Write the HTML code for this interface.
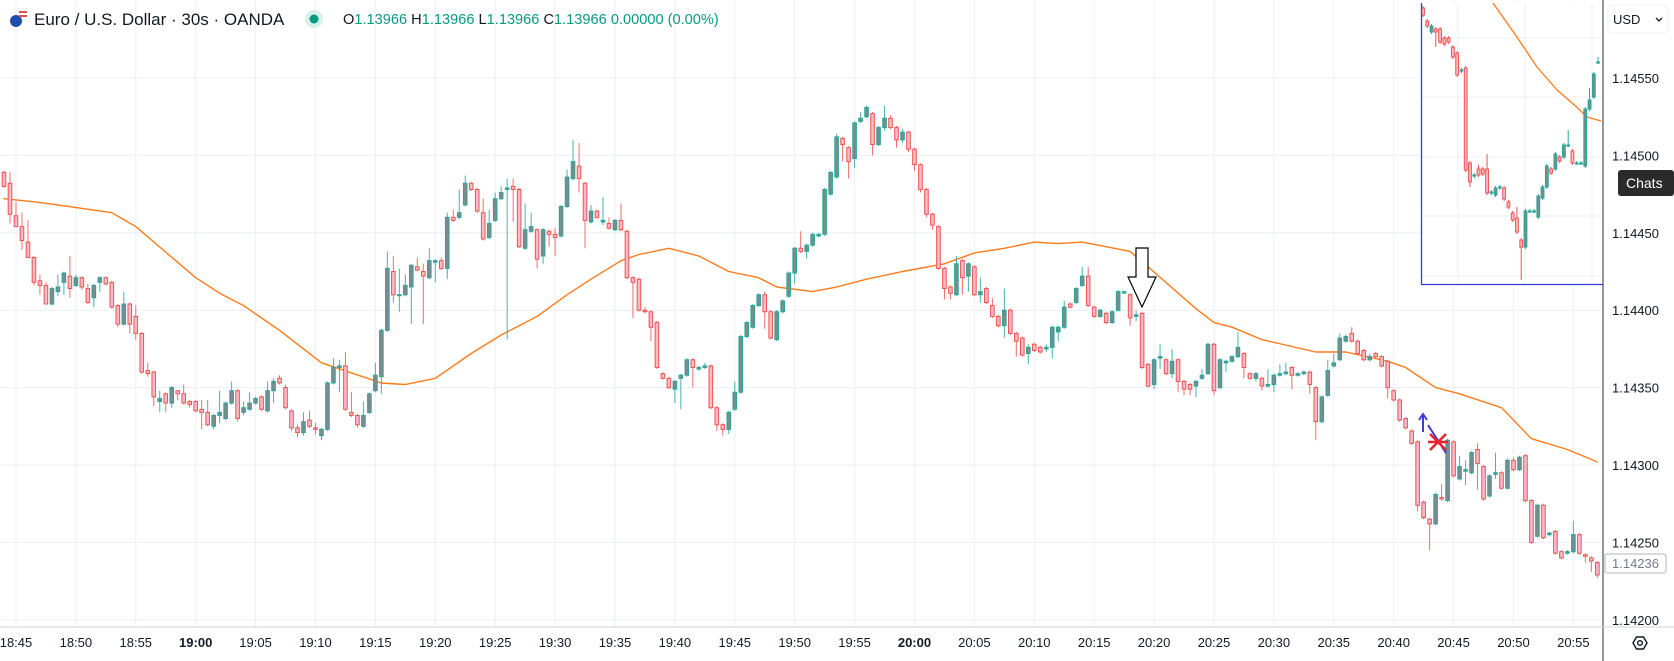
<!DOCTYPE html>
<html><head><meta charset="utf-8"><style>
html,body{margin:0;padding:0;background:#fff;width:1674px;height:661px;overflow:hidden;font-family:"Liberation Sans",sans-serif}
svg{position:absolute;left:0;top:0}
</style></head><body>
<svg id="chart" width="1674" height="661" viewBox="0 0 1674 661" xmlns="http://www.w3.org/2000/svg">
<defs>
<clipPath id="plotClip"><rect x="0" y="0" width="1603" height="626"/></clipPath>
<clipPath id="insetClip"><rect x="1421" y="3" width="182" height="281"/></clipPath>
</defs>
<g id="grid"></g>
<g id="ma" clip-path="url(#plotClip)"></g>
<g id="candles" clip-path="url(#plotClip)"></g>
<g id="inset"></g>
<g id="annot">
 <path d="M1136,248 L1148,248 L1148,277 L1156,277 L1142,307 L1128,277 L1136,277 Z" fill="#fff" stroke="#000" stroke-width="1.2"/>
 <g stroke="#3b3bd6" stroke-width="2" fill="none">
  <path d="M1423,432 L1423,415 M1419,420 L1423,414 L1427,420"/>
  <path d="M1428,425 L1446,453"/>
 </g>
 <g stroke="#e8232e" stroke-width="2.5">
  <path d="M1430,434 L1446,450 M1430,450 L1446,434 M1428,442 L1448,442"/>
 </g>
</g>
<g id="axes">
 <line x1="1603" y1="0" x2="1603" y2="661" stroke="#2a2e39" stroke-width="1"/>
 <line x1="0" y1="627" x2="1674" y2="627" stroke="#d1d4dc" stroke-width="1"/>
</g>
<g id="yticks"></g>
<g id="xticks"></g>
<g>
 <rect x="1605" y="554" width="61" height="19" rx="2" fill="#fff" stroke="#b2b5be"/>
 <text x="1612" y="568" font-size="13" fill="#787b86">1.14236</text>
</g>
<g>
 <rect x="1608" y="5" width="60" height="28" rx="4" fill="#fff" stroke="#eef0f3"/>
 <text x="1613" y="24" font-size="13" fill="#131722">USD</text>
 <path d="M1656,18 L1659,21 L1662,18" stroke="#131722" stroke-width="1.3" fill="none"/>
</g>
<g>
 <rect x="1618" y="170" width="56" height="26" rx="3" fill="#2a2a2a"/>
 <text x="1626" y="188" font-size="14" fill="#fff">Chats</text>
</g>
<g stroke="#131722" stroke-width="1.4" fill="none">
 <path d="M1633,643 L1636.5,637 L1643.5,637 L1647,643 L1643.5,649 L1636.5,649 Z"/>
 <circle cx="1640" cy="643" r="2.3"/>
</g>
<g>
 <circle cx="16" cy="21" r="6" fill="#1f4fae"/>
 <rect x="19" y="11" width="8" height="6" fill="#e84a4a"/>
 <rect x="19" y="13" width="8" height="2" fill="#fff"/>
 <text x="34" y="25" font-size="17" fill="#131722">Euro / U.S. Dollar · 30s · OANDA</text>
 <circle cx="314" cy="19" r="9" fill="#d8f0ec"/>
 <circle cx="314" cy="19" r="4.5" fill="#089981"/>
 <text x="343" y="24" font-size="14.6" fill="#089981"><tspan fill="#131722">O</tspan>1.13966 <tspan fill="#131722">H</tspan>1.13966 <tspan fill="#131722">L</tspan>1.13966 <tspan fill="#131722">C</tspan>1.13966 0.00000 (0.00%)</text>
</g>
</svg>
<script>
// prices in points above 1.14000 (e.g. 472 => 1.14472)
const opens=[489,482,461,454,444,434,419,416,404,412,418,422,416,421,414,408,418,421,418,403,391,404,396,385,361,360,341,346,340,348,346,341,341,336,334,325,332,330,340,348,334,336,340,344,335,348,356,350,335,324,321,329,324,319,323,353,363,364,334,332,325,334,348,357,387,425,410,410,415,428,425,421,431,432,427,460,460,468,482,478,463,447,458,472,478,480,478,440,451,452,435,451,449,448,467,485,493,482,457,464,457,456,452,458,451,421,420,400,399,392,359,356,349,356,358,368,362,363,364,337,326,323,336,347,383,389,403,410,399,381,399,409,424,440,438,442,448,449,475,486,511,505,498,522,525,527,507,518,524,518,510,515,504,494,478,462,454,427,415,410,432,422,428,410,414,403,396,390,400,385,382,372,378,376,375,376,386,389,404,405,416,422,402,396,398,392,400,411,410,396,398,365,352,369,368,359,368,354,352,351,356,359,378,350,366,367,370,372,359,356,356,351,352,358,359,363,358,359,360,350,328,345,364,368,380,385,380,374,368,372,370,367,348,342,330,322,315,276,265,262,279,277,315,291,296,295,310,299,280,294,295,285,303,297,306,277,254,274,255,257,244,243,244,255,242,240,237];
const closes=[480,462,454,445,434,418,416,404,414,415,424,414,421,415,405,416,421,417,402,391,404,391,385,360,359,344,343,340,350,346,340,339,335,334,326,332,334,340,348,330,337,340,343,336,348,354,353,337,324,321,328,325,323,323,353,363,364,336,332,326,332,346,358,387,427,410,410,416,429,426,422,432,432,427,460,458,463,482,478,464,446,456,472,476,479,478,441,452,454,433,452,449,447,467,486,496,485,458,464,460,458,453,458,452,421,418,400,399,389,363,356,350,354,358,368,363,363,364,337,326,323,334,347,383,392,403,410,399,382,399,406,424,440,438,442,449,449,478,489,512,507,496,521,524,531,507,518,524,518,510,515,504,494,478,462,455,427,414,411,430,421,430,410,412,405,396,390,400,385,380,371,376,374,373,376,389,389,402,402,414,422,403,396,400,392,399,412,412,395,397,363,351,368,370,359,367,354,349,349,354,358,378,348,368,367,370,376,363,356,359,351,352,358,359,360,358,359,360,352,328,344,361,366,382,383,380,372,368,370,370,364,350,342,329,324,314,274,266,262,281,278,316,293,299,297,308,301,278,293,295,285,303,297,305,277,250,274,253,256,243,240,244,255,243,241,238,229];
const highs=[490,489,470,463,458,435,423,418,415,423,425,435,423,422,417,417,422,422,419,404,412,405,403,386,366,361,348,347,351,348,352,342,342,342,342,333,348,341,354,349,341,347,344,345,354,356,358,352,336,326,334,335,327,324,354,369,368,373,347,333,341,347,366,388,438,435,427,423,430,434,430,440,433,434,463,465,478,487,483,479,472,465,476,480,485,485,479,469,463,453,453,452,453,468,491,510,508,483,468,465,473,460,459,469,452,422,421,402,400,393,360,357,355,359,369,369,364,366,365,338,327,335,354,384,393,404,411,412,400,400,407,425,441,451,443,450,450,479,490,514,512,506,522,528,532,528,519,532,526,519,517,516,505,495,479,463,455,428,416,435,433,431,429,421,415,408,397,414,401,386,383,378,379,377,378,390,390,406,405,415,428,428,403,401,399,400,413,412,411,400,399,366,369,378,369,375,369,355,353,355,362,379,379,369,368,371,386,373,360,360,357,362,359,365,366,364,360,361,361,351,345,368,372,385,384,389,381,375,372,373,371,368,349,343,331,323,316,277,266,282,288,317,316,306,303,309,314,300,294,308,296,304,305,306,307,278,275,275,257,258,245,245,264,256,243,241,238];
const lows=[479,456,454,439,434,416,410,404,403,409,410,408,415,413,404,402,412,416,401,389,390,385,381,359,357,338,334,334,337,342,339,337,334,323,325,323,327,329,339,328,332,335,339,335,334,340,352,336,322,318,319,324,320,316,322,352,347,335,331,324,324,333,347,346,386,405,399,409,391,425,391,420,418,426,420,457,459,467,477,463,445,446,457,471,381,457,440,439,450,427,430,441,435,447,466,484,476,440,456,459,455,452,451,451,420,395,399,398,380,362,355,349,340,336,357,350,361,362,336,322,319,320,335,346,382,388,402,388,381,380,398,408,417,437,433,441,447,448,474,485,496,485,492,521,524,500,506,516,517,505,508,502,490,476,460,452,426,407,407,409,410,412,409,405,404,395,389,382,384,370,370,365,373,372,373,369,380,388,401,404,415,402,395,395,391,391,399,411,390,393,362,350,349,362,358,356,347,345,345,344,355,358,345,349,360,366,369,356,355,354,348,350,347,357,358,349,357,358,346,316,327,344,363,367,379,379,371,367,367,369,363,343,341,328,323,313,270,265,245,261,277,276,292,290,287,294,284,277,279,291,284,284,296,296,276,249,253,252,254,242,239,242,243,242,237,231,227];
// moving average: candle index and value (points)
const maIdx=[0,5,9,18,22,32,36,40,46,53,63,67,72,78,83,89,94,98,103,106,111,116,121,126,129,135,139,144,150,157,162,167,172,176,180,184,188,191,199,202,205,210,219,224,231,234,239,243,250,255,261,266];
const maVal=[472,470,468,463,454,421,411,403,387,366,353,352,356,372,384,396,410,420,432,436,440,435,425,421,415,412,415,420,425,430,437,440,444,443,444,441,438,428,401,392,389,381,373,373,367,363,350,346,337,317,310,302];
const priceTicks=[550,500,450,400,350,300,250,200];
const timeLabels=["18:45","18:50","18:55","19:00","19:05","19:10","19:15","19:20","19:25","19:30","19:35","19:40","19:45","19:50","19:55","20:00","20:05","20:10","20:15","20:20","20:25","20:30","20:35","20:40","20:45","20:50","20:55"];
// inset (mini chart) values in its own scale
const insetO=[292,279,268,271,271,262,262,253,247,229,232,137,124,131,131,131,107,105,112,112,98,87,82,60,53,89,89,83,102,113,131,131,143,143,155,149,137,137,134,191,203,238];
const insetC=[285,274,274,268,258,256,258,243,225,230,130,118,125,125,126,107,108,112,113,101,93,80,68,53,89,89,89,104,113,134,127,146,139,155,155,137,137,137,191,200,226,238];
const insetH=[294,281,276,273,273,264,264,255,249,232,234,139,127,135,133,146,110,114,115,114,100,89,93,62,91,91,91,106,115,136,133,148,145,157,170,151,139,139,193,212,228,243];
const insetL=[283,272,266,253,256,254,256,241,223,227,128,113,122,123,124,105,105,103,110,99,91,78,66,20,51,87,87,81,100,111,125,129,137,141,153,135,135,135,132,189,201,236];
const insetMaK=[16.4,22,26.7,31.4,36,38.4,41.7];
const insetMaV=[297,263,233,210,193,183,179];

const NS="http://www.w3.org/2000/svg";
const xOf=i=>4+5.99*i;
const yOf=p=>78+(550-p)*1.548;
function mk(tag,attrs,parent){const e=document.createElementNS(NS,tag);for(const k in attrs)e.setAttribute(k,attrs[k]);parent.appendChild(e);return e;}
const grid=document.getElementById('grid');
priceTicks.forEach(p=>{const l=mk('line',{x1:0,x2:1603,y1:yOf(p),y2:yOf(p),stroke:'#eceff4','stroke-width':1},grid);

});
timeLabels.forEach((t,k)=>{const x=xOf(2+10*k);const l=mk('line',{x1:x,x2:x,y1:0,y2:627,stroke:'#eceff4','stroke-width':1},grid);

});
const yt=document.getElementById('yticks');
priceTicks.forEach(p=>{const t=mk('text',{x:1612,y:yOf(p)+5,'font-size':13,fill:'#131722'},yt);t.textContent=(1.14+p/100000).toFixed(5);

});
const xt=document.getElementById('xticks');
timeLabels.forEach((s,k)=>{const bold=(s==='19:00'||s==='20:00');const t=mk('text',{x:xOf(2+10*k),y:647,'font-size':13,fill:'#131722','text-anchor':'middle','font-weight':bold?'bold':'normal'},xt);t.textContent=s;

});
// MA
let d='';maIdx.forEach((ix,j)=>{d+=(j?'L':'M')+xOf(ix).toFixed(1)+','+yOf(maVal[j]).toFixed(1)+' ';});
const ma=mk('path',{d:d,stroke:'#ff7b1a','stroke-width':1.4,fill:'none','stroke-linejoin':'round','stroke-linecap':'round'},document.getElementById('ma'));


// candles
const cg=document.getElementById('candles');
closes.forEach((c,i)=>{const o=opens[i];const up=c>=o;const x=xOf(i);
const col=up?'#26a69a':'#ef5350';const fill=up?'#808a8c':'#f8bbcb';
const g=mk('g',{},cg);


mk('line',{x1:x,x2:x,y1:yOf(highs[i]),y2:yOf(lows[i]),stroke:col,'stroke-width':1,opacity:0.85},g);
const top=yOf(Math.max(o,c)),bot=yOf(Math.min(o,c));
mk('rect',{x:x-1.8,y:top,width:3.6,height:Math.max(bot-top,1),fill:fill,stroke:col,'stroke-width':1},g);});
// inset
const ig=document.getElementById('inset');
const bg=mk('rect',{x:1421,y:3,width:182,height:281,fill:'#fff'},ig);


[38,97,157,216,276].forEach(y=>mk('line',{x1:1422,x2:1603,y1:y,y2:y,stroke:'#eceff4'},ig));
[1458,1525,1592].forEach(x=>mk('line',{x1:x,x2:x,y1:3,y2:284,stroke:'#eceff4'},ig));
const ic=mk('g',{'clip-path':'url(#insetClip)'},ig);
const ixOf=k=>1423+4.27*k;const iyOf=v=>300-v;
let d2='';insetMaK.forEach((k,j)=>{d2+=(j?'L':'M')+ixOf(k).toFixed(1)+','+iyOf(insetMaV[j])+' ';});
const ima=mk('path',{d:d2,stroke:'#ff7b1a','stroke-width':1.3,fill:'none','stroke-linejoin':'round'},ic);


insetC.forEach((c,k)=>{const o=insetO[k];const up=c>=o;const x=ixOf(k);const col=up?'#26a69a':'#ef5350';const fill=up?'#808a8c':'#f8bbcb';
const g=mk('g',{},ic);


mk('line',{x1:x,x2:x,y1:iyOf(insetH[k]),y2:iyOf(insetL[k]),stroke:col,'stroke-width':1},g);
const top=iyOf(Math.max(o,c)),bot=iyOf(Math.min(o,c));
mk('rect',{x:x-1.4,y:top,width:2.8,height:Math.max(bot-top,1),fill:fill,stroke:col,'stroke-width':1},g);});
const bd=mk('path',{d:'M1421.5,3 L1421.5,284.5 L1603,284.5',stroke:'#3b3bd6','stroke-width':1.3,fill:'none'},ig);


</script>
</body></html>
